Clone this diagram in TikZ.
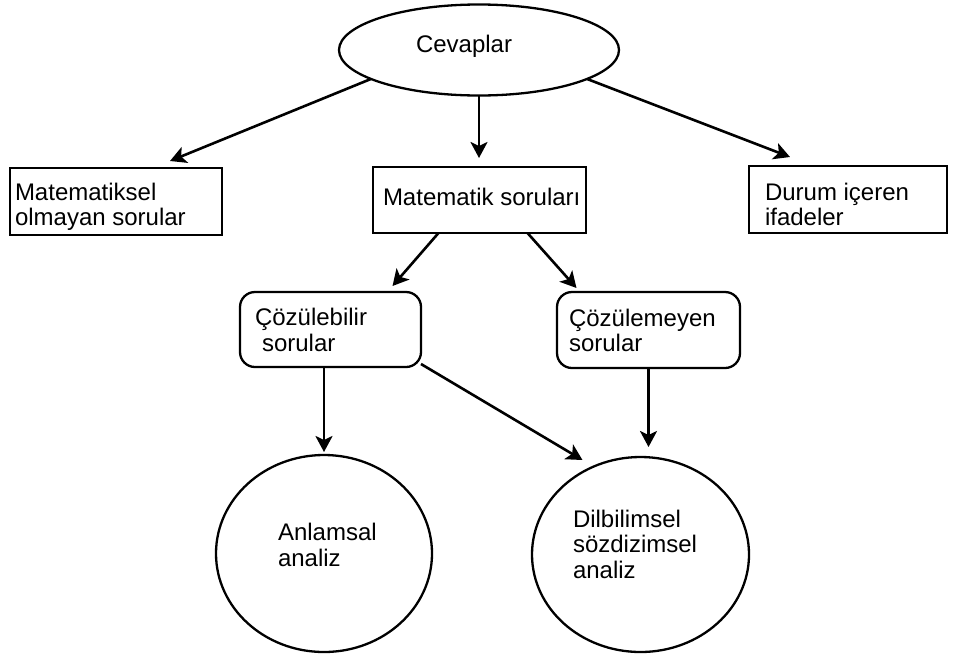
\documentclass[tikz,border=0pt]{standalone}
\usepackage{fontspec}
\setmainfont{Liberation Sans}
\usetikzlibrary{arrows.meta,calc,shapes.geometric}
\tikzset{
  shp/.style={draw=black, line width=2.3pt, inner sep=0pt, outer sep=0pt},
  rbox/.style={shp, rectangle},
  rrbox/.style={shp, rectangle, rounded corners=15pt},
  oval/.style={shp, ellipse},
  txt/.style={inner sep=0pt, outer sep=0pt, anchor=base west, align=left,
    font=\fontsize{24}{25.5}\selectfont},
  arr/.style={line width=2.6pt, -{Stealth[length=16pt,width=17pt,inset=4pt]}}
}
\begin{document}
\begin{tikzpicture}[x=1pt,y=-1pt]
\useasboundingbox[fill=white] (0,0) rectangle (957,659);
% shapes
\node[oval, minimum width=280pt, minimum height=91pt] (cev) at (479,50) {};
\node[rbox, minimum width=212pt, minimum height=67pt] (lb) at (116,201.5) {};
\node[rbox, minimum width=213pt, minimum height=66pt] (ms) at (479.5,200) {};
\node[rbox, minimum width=198pt, minimum height=67pt] (rb) at (848,199.5) {};
\node[rrbox, minimum width=181pt, minimum height=75pt] (cb) at (330.5,329.5) {};
\node[rrbox, minimum width=183pt, minimum height=76pt] (cu) at (648.5,330) {};
\node[oval, minimum width=216pt, minimum height=197pt] (an) at (324,553.5) {};
\node[oval, minimum width=217pt, minimum height=195pt] (dl) at (640.5,554.5) {};
% texts (base west = baseline of the last line)
\node[txt] (tcev) at (416,52) {Cevaplar};
\node[txt] (tlb) at (15,225.5) {Matematiksel\\olmayan sorular};
\node[txt] (tms) at (383,205) {Matematik soruları};
\node[txt] (trba) at (765,200) {Durum içeren};
\node[txt] (trbb) at (765,225.5) {ifadeler};
\node[txt] (tcb) at (255,351) {Çözülebilir\\\hspace{7pt}sorular};
\node[txt] (tcu) at (569,351.5) {Çözülemeyen\\sorular};
\node[txt] (tan) at (278,566) {Anlamsal\\analiz};
\node[txt] (tdl) at (573,578) {Dilbilimsel\\sözdizimsel\\analiz};
% connectors
\draw[arr] (cev.195) -- ($(lb.north)+(54,-7)$);
\draw[arr, shorten >=9pt] (cev.south) -- (cev.south |- ms.north);
\draw[arr] (cev.345) -- ($(rb.north)+(-58,-9)$);
\draw[arr] ($(ms.south)+(-41,0)$) -- ($(cb.north)+(62,-6)$);
\draw[arr] ($(ms.south)+(48,0)$) -- ($(cu.north)+(-72,-4)$);
\draw[arr, shorten >=3pt] (cb.south -| an.north) -- (an.north);
\draw[arr] ($(cb.south east)+(0,-3)$) -- ($(dl.north)+(-58,3)$);
\draw[arr, shorten >=10pt] (cu.south) -- (cu.south |- dl.north);
\end{tikzpicture}
\end{document}
